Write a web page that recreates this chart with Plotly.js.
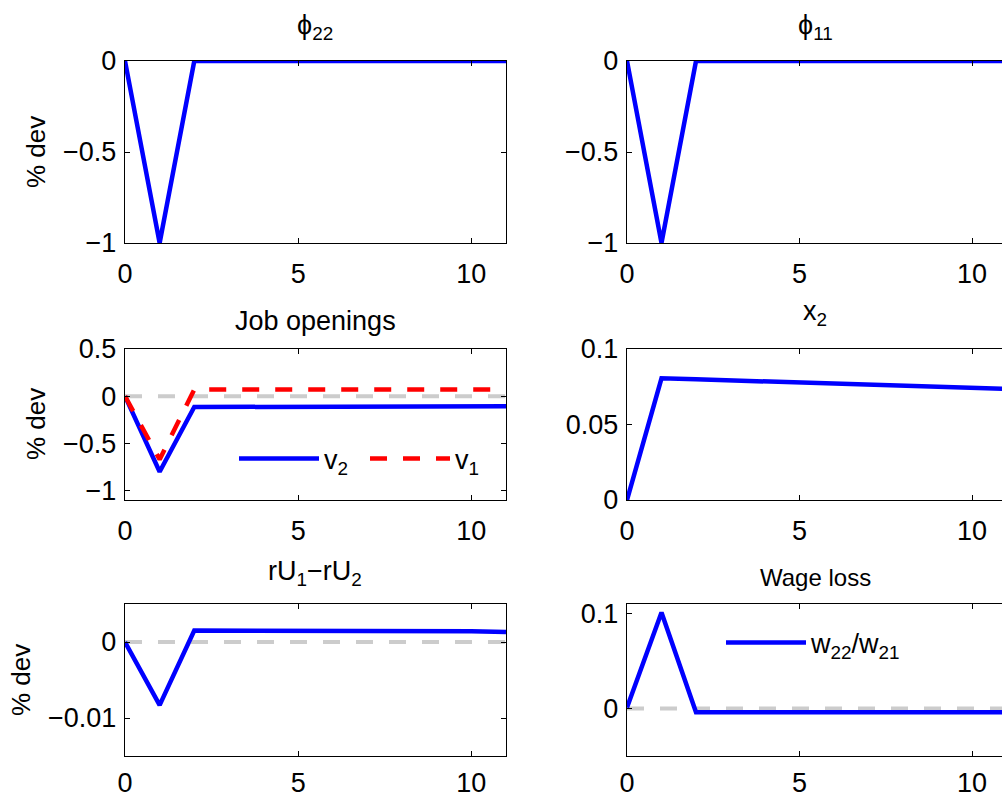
<!DOCTYPE html>
<html>
<head>
<meta charset="utf-8">
<script src="https://cdn.plot.ly/plotly-3.0.1.min.js"></script>
<style>html,body{margin:0;padding:0;background:#fff;}#chart{width:1002px;height:797px;}</style>
</head>
<body>
<div id="chart"></div>
<script>
// ---- data ----
const periods = [0, 1, 2, 3, 4, 5, 6, 7, 8, 9, 10, 11];
const phi22 = [0, -1, 0, 0, 0, 0, 0, 0, 0, 0, 0, 0];
const phi11 = [0, -1, 0, 0, 0, 0, 0, 0, 0, 0, 0, 0];
const v2 = [0, -0.80, -0.115, -0.114, -0.113, -0.112, -0.111, -0.110, -0.109, -0.108, -0.107, -0.106];
const v1 = [0, -0.67, 0.07, 0.07, 0.07, 0.07, 0.07, 0.07, 0.07, 0.07, 0.07, 0.07];
const x2 = [0, 0.0806, 0.0799, 0.0792, 0.0785, 0.0778, 0.0771, 0.0764, 0.0757, 0.0750, 0.0743, 0.0736];
const rU1minusRU2 = [0, -0.0083, 0.0015, 0.0015, 0.0015, 0.0015, 0.0014, 0.0014, 0.0014, 0.0014, 0.0014, 0.0013];
const w22overW21 = [0.001, 0.101, -0.004, -0.004, -0.004, -0.004, -0.004, -0.004, -0.004, -0.004, -0.004, -0.004];
const zeroRef = [0, 0, 0, 0, 0, 0, 0, 0, 0, 0, 0, 0];
const xTicks = [0, 5, 10];

const W = 1002, H = 797;
const FONT = 'Liberation Sans, Arial, Helvetica, sans-serif';
const BLUE = '#0000ff', RED = '#ff0000', GRAY = '#cccccc';
const px = v => v / W;
const py = v => 1 - v / H;

const blueLine = {color: BLUE, width: 4.5};
const grayLine = {color: GRAY, width: 4, dash: '17px,16px'};
const redLine = {color: RED, width: 4.5, dash: '17px,16px'};

const traces = [
  {x: periods, y: phi22, xaxis: 'x', yaxis: 'y', mode: 'lines', line: blueLine, showlegend: false},
  {x: periods, y: phi11, xaxis: 'x2', yaxis: 'y2', mode: 'lines', line: blueLine, showlegend: false},
  {x: periods, y: zeroRef, xaxis: 'x3', yaxis: 'y3', mode: 'lines', line: grayLine, showlegend: false},
  {x: periods, y: v2, xaxis: 'x3', yaxis: 'y3', mode: 'lines', line: blueLine, name: 'v<sub>2</sub>', legend: 'legend'},
  {x: periods, y: v1, xaxis: 'x3', yaxis: 'y3', mode: 'lines', line: redLine, name: 'v<sub>1</sub>', legend: 'legend'},
  {x: periods, y: x2, xaxis: 'x4', yaxis: 'y4', mode: 'lines', line: blueLine, showlegend: false},
  {x: periods, y: zeroRef, xaxis: 'x5', yaxis: 'y5', mode: 'lines', line: grayLine, showlegend: false},
  {x: periods, y: rU1minusRU2, xaxis: 'x5', yaxis: 'y5', mode: 'lines', line: blueLine, showlegend: false},
  {x: periods, y: zeroRef, xaxis: 'x6', yaxis: 'y6', mode: 'lines', line: grayLine, showlegend: false},
  {x: periods, y: w22overW21, xaxis: 'x6', yaxis: 'y6', mode: 'lines', line: blueLine, name: 'w<sub>22</sub>/w<sub>21</sub>', legend: 'legend2'}
];

const tickFont = {family: FONT, size: 27, color: '#000'};
function xa(domain, range, anchor, mirror, standoff) {
  return {domain: domain, range: range, anchor: anchor, tickvals: xTicks, ticktext: xTicks.map(String),
    ticks: 'inside', ticklen: 5, tickcolor: '#000', showline: true, linecolor: '#000', linewidth: 1.2,
    mirror: mirror, showgrid: false, zeroline: false, tickfont: tickFont, ticklabelstandoff: standoff, fixedrange: true};
}
function ya(domain, range, anchor, tickvals, ticktext, mirror) {
  return {domain: domain, range: range, anchor: anchor, tickvals: tickvals, ticktext: ticktext,
    ticks: 'inside', ticklen: 5, tickcolor: '#000', showline: true, linecolor: '#000', linewidth: 1.2,
    mirror: mirror, showgrid: false, zeroline: false, tickfont: tickFont, ticklabelstandoff: 2, fixedrange: true};
}

const colL = [px(125), px(506)];
const colR = [px(627), 1];
const rightMax = (W - 627) / 34.5;
const row1 = [py(243), py(61)];
const row2 = [py(500), py(349)];
const row3 = [py(756), py(604)];

function ann(text, x, y, size, angle) {
  return {text: text, x: px(x), y: py(y), xref: 'paper', yref: 'paper', xanchor: 'center', yanchor: 'middle',
    showarrow: false, textangle: angle || 0, font: {family: FONT, size: size, color: '#000'}};
}

const layout = {
  width: W, height: H,
  margin: {l: 0, r: 0, t: 0, b: 0},
  paper_bgcolor: '#fff', plot_bgcolor: '#fff',
  font: {family: FONT, color: '#000'},
  xaxis: xa(colL, [0, 11], 'y', 'ticks', 6),
  yaxis: ya(row1, [-1, 0], 'x', [-1, -0.5, 0], ['\u22121', '\u22120.5', '0'], 'ticks'),
  xaxis2: xa(colR, [0, rightMax], 'y2', 'ticks', 6),
  yaxis2: ya(row1, [-1, 0], 'x2', [-1, -0.5, 0], ['\u22121', '\u22120.5', '0'], false),
  xaxis3: xa(colL, [0, 11], 'y3', 'ticks', 6),
  yaxis3: ya(row2, [-1.1, 0.5], 'x3', [-1, -0.5, 0, 0.5], ['\u22121', '\u22120.5', '0', '0.5'], 'ticks'),
  xaxis4: xa(colR, [0, rightMax], 'y4', 'ticks', 6),
  yaxis4: ya(row2, [0, 0.1], 'x4', [0, 0.05, 0.1], ['0', '0.05', '0.1'], false),
  xaxis5: xa(colL, [0, 11], 'y5', 'ticks', 2),
  yaxis5: ya(row3, [-0.015, 0.005], 'x5', [-0.01, 0], ['\u22120.01', '0'], 'ticks'),
  xaxis6: xa(colR, [0, rightMax], 'y6', 'ticks', 2),
  yaxis6: ya(row3, [-0.05, 0.11], 'x6', [0, 0.1], ['0', '0.1'], false),
  legend: {orientation: 'h', x: px(234), xanchor: 'left', y: py(459), yanchor: 'middle',
    bgcolor: 'rgba(0,0,0,0)', borderwidth: 0, font: {family: FONT, size: 27, color: '#000'},
    itemwidth: 80, entrywidth: 36, entrywidthmode: 'pixels'},
  legend2: {orientation: 'h', x: px(721), xanchor: 'left', y: py(643), yanchor: 'middle',
    bgcolor: 'rgba(0,0,0,0)', borderwidth: 0, font: {family: FONT, size: 27, color: '#000'}, itemwidth: 80},
  annotations: [
    ann('\u03d5<sub>22</sub>', 315, 27, 27),
    ann('\u03d5<sub>11</sub>', 815, 27, 27),
    ann('Job openings', 315, 321, 27),
    ann('x<sub>2</sub>', 815, 313, 27),
    ann('rU<sub>1</sub>\u2212rU<sub>2</sub>', 315, 573, 27),
    ann('Wage loss', 815, 577, 24),
    ann('% dev', 36, 152, 26, -90),
    ann('% dev', 36, 424, 26, -90),
    ann('% dev', 21, 680, 26, -90)
  ]
};

Plotly.newPlot('chart', traces, layout, {staticPlot: true, displayModeBar: false});
</script>
</body>
</html>
